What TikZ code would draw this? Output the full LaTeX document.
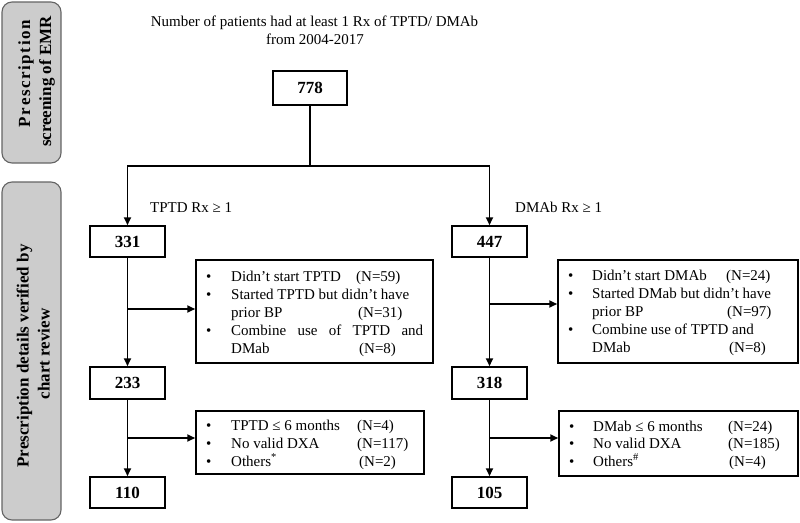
\documentclass[tikz,border=0pt]{standalone}
\usepackage{fontspec}
\setmainfont{Liberation Serif}
\usetikzlibrary{arrows.meta}
\definecolor{sidefill}{RGB}{204,204,204}
\definecolor{sidedraw}{RGB}{100,100,100}
\tikzset{
  numbox/.style={draw, line width=1.5pt, inner sep=0pt, font=\bfseries\fontsize{17}{20}\selectfont},
  exbox/.style={draw, line width=1.5pt, inner sep=0pt},
  txt/.style={anchor=base west, inner sep=0pt, font=\fontsize{15}{18}\selectfont},
  ctxt/.style={anchor=base, inner sep=0pt, font=\fontsize{15}{18}\selectfont},
  sidebox/.style={draw=sidedraw, fill=sidefill, rounded corners=10pt, line width=1.1pt},
  sidetxt/.style={rotate=90, anchor=base, inner sep=0pt, font=\bfseries\fontsize{17}{20}\selectfont},
  conn/.style={line width=1.8pt},
  arr/.style={line width=1.8pt, -{Triangle[length=8pt,width=7pt]}}
}
\begin{document}
\begin{tikzpicture}[x=1pt,y=-1pt]
\useasboundingbox (0,0) rectangle (800,522);
% side boxes
\draw[sidebox] (2,2) rectangle (61,163);
\draw[sidebox] (2,182) rectangle (61,520);
\node[sidetxt] (s1a) at (30,73.5) {\makebox[107pt][s]{P\hfil r\hfil e\hfil s\hfil c\hfil r\hfil i\hfil p\hfil t\hfil i\hfil o\hfil n}};
\node[sidetxt] (s1b) at (51,81.5) {screening of EMR};
\node[sidetxt] (s2a) at (28.5,356) {Prescription details verified by};
\node[sidetxt] (s2b) at (49.5,354) {chart review};
% title
\node[ctxt] (t1) at (314.5,27) {Number of patients had at least 1 Rx of TPTD/ DMAb};
\node[ctxt] (t2) at (315,44) {from 2004-2017};
% number boxes
\node[numbox, minimum width=74pt, minimum height=34pt] (n778) at (310,88) {778};
\node[numbox, minimum width=75pt, minimum height=31pt] (n331) at (127.5,241.5) {331};
\node[numbox, minimum width=75pt, minimum height=31pt] (n447) at (489.5,241.5) {447};
\node[numbox, minimum width=75pt, minimum height=32pt] (n233) at (127.5,383) {233};
\node[numbox, minimum width=75pt, minimum height=32pt] (n318) at (489.5,383) {318};
\node[numbox, minimum width=75pt, minimum height=31pt] (n110) at (127.5,492.5) {110};
\node[numbox, minimum width=75pt, minimum height=31pt] (n105) at (489.5,492.5) {105};
% exclusion boxes
\node[exbox, minimum width=237pt, minimum height=103pt] (ex1) at (314.5,311.5) {};
\node[exbox, minimum width=240pt, minimum height=103pt] (ex2) at (678,311.5) {};
\node[exbox, minimum width=228pt, minimum height=63pt] (ex3) at (310,442.5) {};
\node[exbox, minimum width=239pt, minimum height=65pt] (ex4) at (678.5,443.5) {};
% branch labels
\node[txt] (l1) at (150,212) {TPTD Rx ≥ 1};
\node[txt] (l2) at (515,212) {DMAb Rx ≥ 1};
% connectors
\coordinate (split) at (310,166);
\coordinate (sl) at (127.5,166);
\coordinate (sr) at (489.5,166);
\draw[conn] (n778.south) -- (split);
\draw[conn, line cap=rect] (sl) -- (sr);
\draw[arr] (sl) -- (n331.north);
\draw[arr] (sr) -- (n447.north);
\draw[arr] (n331.south) -- (n233.north);
\draw[arr] (n447.south) -- (n318.north);
\draw[arr] (n233.south) -- (n110.north);
\draw[arr] (n318.south) -- (n105.north);
\coordinate (b1) at (127.5,309);
\coordinate (b2) at (489.5,304);
\coordinate (b3) at (127.5,438);
\coordinate (b4) at (489.5,438);
\draw[arr] (b1) -- (b1 -| ex1.west);
\draw[arr] (b2) -- (b2 -| ex2.west);
\draw[arr] (b3) -- (b3 -| ex3.west);
\draw[arr] (b4) -- (b4 -| ex4.west);
% ex1 text
\node[txt] (e1b1) at (206,281) {•};
\node[txt] (e1b2) at (206,299) {•};
\node[txt] (e1b3) at (206,335) {•};
\node[txt] (e1l1) at (231,281) {Didn’t start TPTD};
\node[txt] (e1n1) at (356,281) {(N=59)};
\node[txt] (e1l2) at (231,299) {Started TPTD but didn’t have};
\node[txt] (e1l3) at (231,317) {prior BP};
\node[txt] (e1n3) at (358,317) {(N=31)};
\node[txt] (e1l4) at (231,335) {\makebox[192pt][s]{Combine use of TPTD and}};
\node[txt] (e1l5) at (231,353) {DMab};
\node[txt] (e1n5) at (359,353) {(N=8)};
% ex2 text
\node[txt] (e2b1) at (568,280) {•};
\node[txt] (e2b2) at (568,298) {•};
\node[txt] (e2b3) at (568,334) {•};
\node[txt] (e2l1) at (592,280) {Didn’t start DMAb};
\node[txt] (e2n1) at (726,280) {(N=24)};
\node[txt] (e2l2) at (592,298) {Started DMab but didn’t have};
\node[txt] (e2l3) at (592,316) {prior BP};
\node[txt] (e2n3) at (727,316) {(N=97)};
\node[txt] (e2l4) at (592,334) {Combine use of TPTD and};
\node[txt] (e2l5) at (592,352) {DMab};
\node[txt] (e2n5) at (729,352) {(N=8)};
% ex3 text
\node[txt] (e3b1) at (206,430) {•};
\node[txt] (e3b2) at (206,448) {•};
\node[txt] (e3b3) at (206,466) {•};
\node[txt] (e3l1) at (231,430) {TPTD ≤ 6 months};
\node[txt] (e3n1) at (357,430) {(N=4)};
\node[txt] (e3l2) at (231,448) {No valid DXA};
\node[txt] (e3n2) at (357,448) {(N=117)};
\node[txt] (e3l3) at (231,466) {Others\textsuperscript{*}};
\node[txt] (e3n3) at (359,466) {(N=2)};
% ex4 text
\node[txt] (e4b1) at (569,431) {•};
\node[txt] (e4b2) at (569,448) {•};
\node[txt] (e4b3) at (569,466) {•};
\node[txt] (e4l1) at (593,431) {DMab ≤ 6 months};
\node[txt] (e4n1) at (728,431) {(N=24)};
\node[txt] (e4l2) at (593,448) {No valid DXA};
\node[txt] (e4n2) at (728,448) {(N=185)};
\node[txt] (e4l3) at (593,466) {Others\textsuperscript{\#}};
\node[txt] (e4n3) at (729,466) {(N=4)};
\end{tikzpicture}
\end{document}
